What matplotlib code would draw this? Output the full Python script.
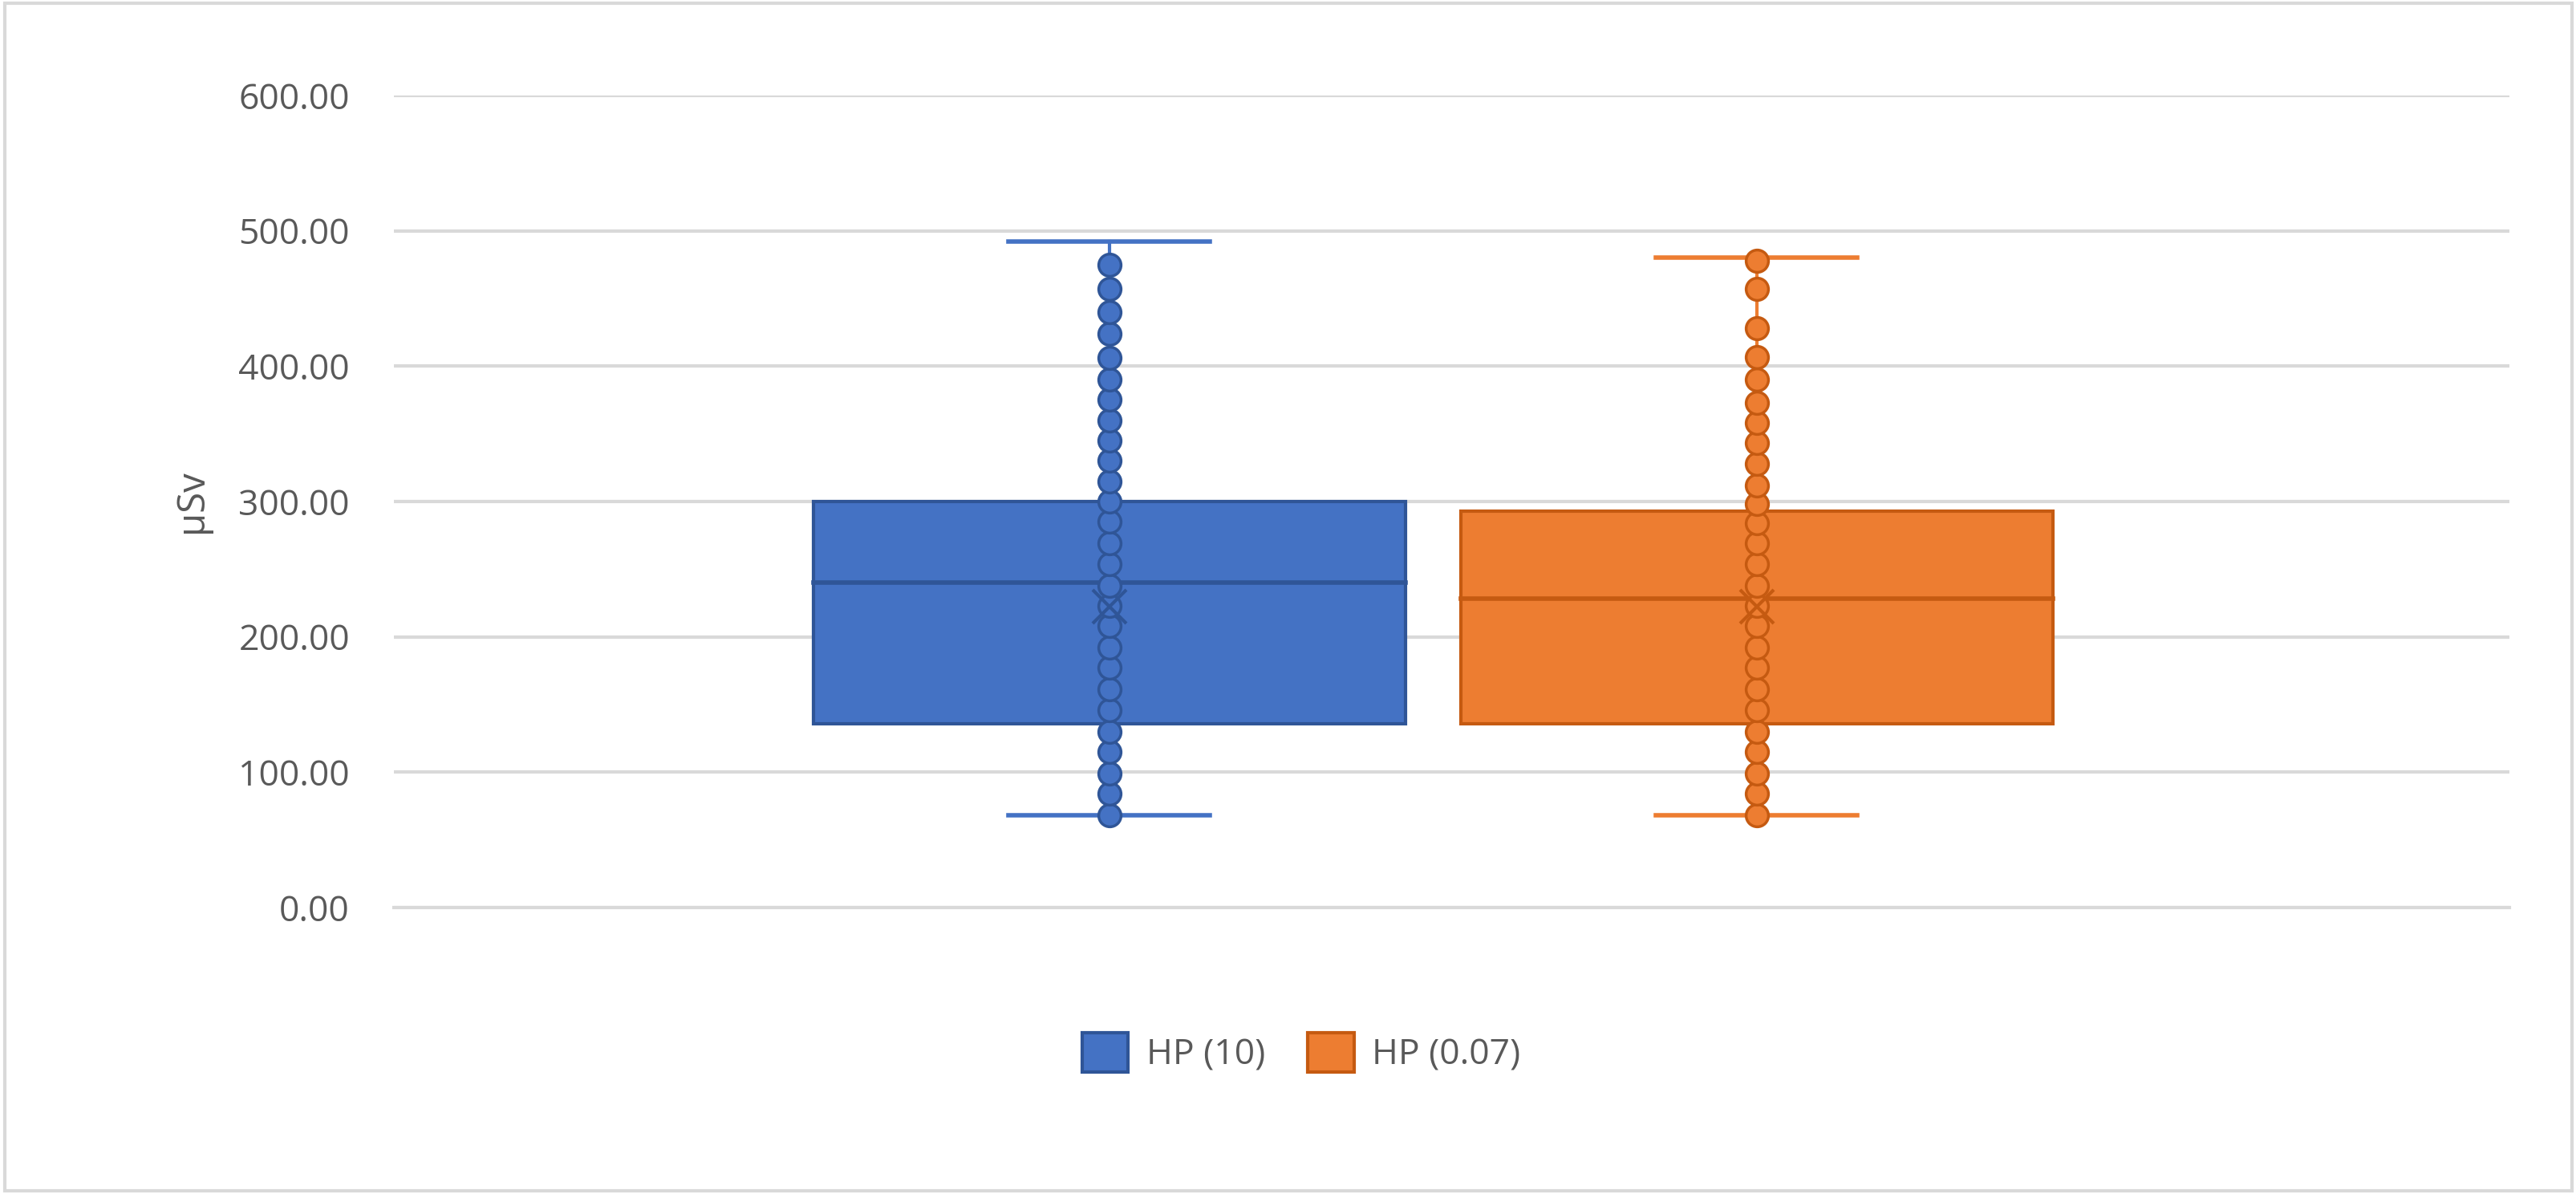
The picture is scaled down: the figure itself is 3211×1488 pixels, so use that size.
import numpy as np
import matplotlib.pyplot as plt
from matplotlib.patches import Rectangle

# data
series = ['HP (10)', 'HP (0.07)']
colors = ['#4472C4', '#ED7D31']
edges = ['#2F5597', '#C55A11']
q1 = [136, 136]
q3 = [300, 293]
median = [240, 228]
mean = [222, 222]
whisk_lo = [68, 68]
whisk_hi = [492, 480]
points_blue = [68, 84, 99, 115, 130, 146, 161, 177, 192, 208, 223, 238, 254, 269, 285,
               300, 315, 330, 345, 360, 375, 390, 406, 424, 440, 457, 475]
points_orange = [68, 84, 99, 115, 130, 146, 161, 177, 192, 208, 223, 238, 254, 269, 284,
                 298, 312, 328, 343, 358, 373, 390, 407, 428, 457, 478]
points = [points_blue, points_orange]
yticks = [0, 100, 200, 300, 400, 500, 600]

plt.rcParams['font.family'] = ['Open Sans', 'DejaVu Sans']
fig = plt.figure(figsize=(32.12, 14.88), dpi=100)
ax = fig.add_axes([0.153, 0.24, 0.821, 0.68])

centers = [0.338, 0.644]
bw = 0.28
cap = 0.095
for i in range(2):
    c = centers[i]
    ax.add_patch(Rectangle((c - bw/2, q1[i]), bw, q3[i]-q1[i], facecolor=colors[i],
                           edgecolor=edges[i], linewidth=3, zorder=3))
    ax.plot([c - bw/2, c + bw/2], [median[i]]*2, color=edges[i], lw=4, zorder=4)
    ax.plot([c, c], [whisk_lo[i], whisk_hi[i]], color=colors[i], lw=3, zorder=2)
    ax.plot([c - cap/2, c + cap/2], [whisk_lo[i]]*2, color=colors[i], lw=4, zorder=2)
    ax.plot([c - cap/2, c + cap/2], [whisk_hi[i]]*2, color=colors[i], lw=4, zorder=2)
    ax.plot([c]*len(points[i]), points[i], 'o', color=colors[i], mec=edges[i],
            ms=20, mew=2.5, zorder=5)
    ax.plot([c], [mean[i]], 'x', color=edges[i], ms=30, mew=3, zorder=6)

ax.set_xlim(0, 1)
ax.set_ylim(0, 600)
ax.set_yticks(yticks)
ax.set_yticklabels(['%.2f' % v for v in yticks], fontsize=32, color='#595959')
ax.set_xticks([])
ax.grid(axis='y', color='#D9D9D9', lw=3)
ax.set_axisbelow(True)
for s in ['top', 'right', 'left']:
    ax.spines[s].set_visible(False)
ax.spines['bottom'].set_color('#D9D9D9')
ax.spines['bottom'].set_linewidth(3)
ax.tick_params(axis='y', length=0, pad=40)
ax.set_ylabel('µSv', fontsize=34, color='#595959', labelpad=25)

handles = [Rectangle((0, 0), 1, 1, facecolor=colors[i], edgecolor=edges[i], lw=3) for i in range(2)]
leg = fig.legend(handles, series, loc='center', bbox_to_anchor=(0.505, 0.118), ncol=2,
                 frameon=False, fontsize=32, handlelength=1.3, handleheight=1.3,
                 columnspacing=1.2, handletextpad=0.5)
for t in leg.get_texts():
    t.set_color('#595959')

fig.patches.append(Rectangle((0.002, 0.003), 0.996, 0.994, transform=fig.transFigure,
                             fill=False, edgecolor='#D9D9D9', lw=3))
fig.savefig('out.png', dpi=100)
